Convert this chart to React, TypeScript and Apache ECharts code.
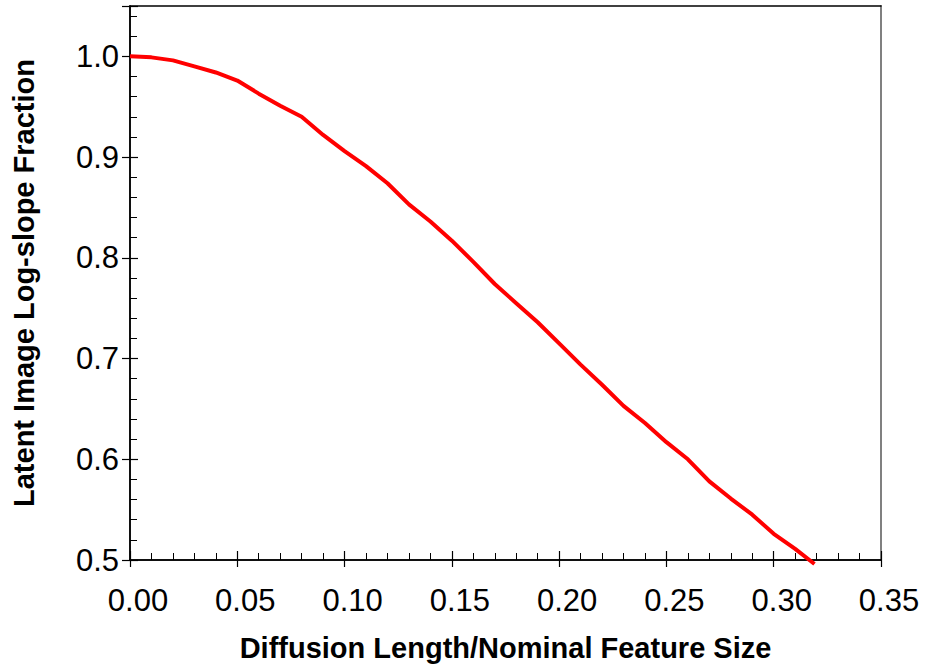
import React, { useEffect, useRef } from "react";
import * as echarts from "echarts";

const diffusionLength = [
  0, 0.01, 0.02, 0.03, 0.04, 0.05, 0.06, 0.07, 0.08, 0.09, 0.1, 0.11, 0.12, 0.13, 0.14, 0.15,
  0.16, 0.17, 0.18, 0.19, 0.2, 0.21, 0.22, 0.23, 0.24, 0.25, 0.26, 0.27, 0.28, 0.29, 0.3, 0.31,
  0.319,
];
const logSlopeFraction = [
  1.0, 0.999, 0.996, 0.99, 0.984, 0.976, 0.963, 0.951, 0.94, 0.922, 0.906, 0.891, 0.874, 0.853,
  0.836, 0.817, 0.796, 0.774, 0.755, 0.736, 0.715, 0.694, 0.674, 0.653, 0.636, 0.617, 0.6, 0.578,
  0.561, 0.545, 0.526, 0.511, 0.496,
];
const xMin = 0;
const xMax = 0.35;
const xStep = 0.05;
const yMin = 0.5;
const yMax = 1.05;
const yStep = 0.1;

const FONT = "Liberation Sans, Arial, sans-serif";

export default function App() {
  const ref = useRef<HTMLDivElement>(null);
  useEffect(() => {
    if (!ref.current) return;
    const chart = echarts.init(ref.current, null, { renderer: "svg" });
    const axisLine = { show: true, onZero: false, lineStyle: { color: "#000", width: 1.5 } };
    chart.setOption({
      animation: false,
      backgroundColor: "#fff",
      grid: { left: 130, top: 6, width: 751, height: 554, containLabel: false },
      xAxis: [
        {
          type: "value",
          position: "bottom",
          min: xMin,
          max: xMax,
          interval: xStep,
          axisLine,
          axisTick: { show: true, inside: false, length: 7, lineStyle: { color: "#000", width: 1.2 } },
          minorTick: { show: false },
          splitLine: { show: false },
          axisLabel: {
            margin: 25,
            fontSize: 31,
            fontFamily: FONT,
            color: "#000",
            padding: [0, 0, 0, 16],
            formatter: (v: number) => v.toFixed(2),
          },
          name: "Diffusion Length/Nominal Feature Size",
          nameLocation: "middle",
          nameGap: 73,
          nameTextStyle: { fontSize: 29, fontWeight: "bold", fontFamily: FONT, color: "#000" },
        },
        {
          type: "value",
          position: "bottom",
          min: xMin,
          max: xMax,
          interval: xStep,
          axisLine,
          axisTick: { show: true, inside: true, length: 9, lineStyle: { color: "#000", width: 1.2 } },
          minorTick: { show: true, splitNumber: 5, length: 7, lineStyle: { color: "#000", width: 1 } },
          splitLine: { show: false },
          axisLabel: { show: false },
        },
        {
          type: "value",
          position: "top",
          min: xMin,
          max: xMax,
          axisLine: { show: true, onZero: false, lineStyle: { color: "#000", width: 1.5 } },
          axisTick: { show: false },
          splitLine: { show: false },
          axisLabel: { show: false },
        },
      ],
      yAxis: [
        {
          type: "value",
          position: "left",
          min: yMin,
          max: yMax,
          interval: yStep,
          axisLine,
          axisTick: { show: true, inside: false, length: 8, lineStyle: { color: "#000", width: 1.2 } },
          splitLine: { show: false },
          axisLabel: {
            margin: 11,
            fontSize: 31,
            fontFamily: FONT,
            color: "#000",
            formatter: (v: number) => (v > 1.04 ? "" : v.toFixed(1)),
          },
          name: "Latent Image Log-slope Fraction",
          nameLocation: "middle",
          nameGap: 92,
          nameTextStyle: { fontSize: 29, fontWeight: "bold", fontFamily: FONT, color: "#000" },
        },
        {
          type: "value",
          position: "left",
          min: yMin,
          max: yMax,
          interval: yStep,
          axisLine,
          axisTick: { show: true, inside: true, length: 8, lineStyle: { color: "#000", width: 1.2 } },
          minorTick: { show: true, splitNumber: 5, length: 7, lineStyle: { color: "#000", width: 1 } },
          splitLine: { show: false },
          axisLabel: { show: false },
        },
        {
          type: "value",
          position: "right",
          min: yMin,
          max: yMax,
          axisLine: { show: true, onZero: false, lineStyle: { color: "#808080", width: 2 } },
          axisTick: { show: false },
          splitLine: { show: false },
          axisLabel: { show: false },
        },
      ],
      series: [
        {
          type: "line",
          xAxisIndex: 0,
          yAxisIndex: 0,
          data: diffusionLength.map((x, i) => [x, logSlopeFraction[i]]),
          showSymbol: false,
          symbol: "none",
          clip: false,
          lineStyle: { color: "#ff0000", width: 4 },
        },
      ],
    });
    return () => chart.dispose();
  }, []);
  return (
    <div
      ref={ref}
      style={{ position: "fixed", left: 0, top: 0, width: 925, height: 670, background: "#fff" }}
    />
  );
}
